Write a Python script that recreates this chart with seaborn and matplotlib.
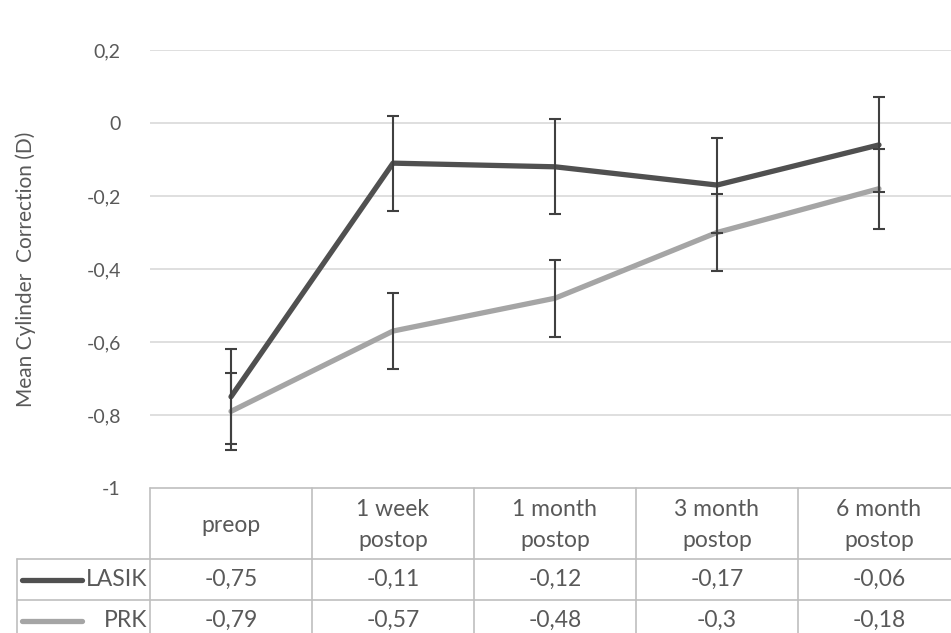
import numpy as np
import pandas as pd
import matplotlib
matplotlib.use("Agg")
import matplotlib.pyplot as plt
import seaborn as sns

# --- data --- #
categories = ["preop", "1 week\npostop", "1 month\npostop", "3 month\npostop", "6 month\npostop"]
lasik = [-0.75, -0.11, -0.12, -0.17, -0.06]
prk = [-0.79, -0.57, -0.48, -0.30, -0.18]
lasik_err = [0.13, 0.13, 0.13, 0.13, 0.13]
prk_err = [0.105, 0.105, 0.105, 0.105, 0.11]
series_names = ["LASIK", "PRK"]
y_ticks = [0.2, 0.0, -0.2, -0.4, -0.6, -0.8, -1.0]

colors = {"LASIK": "#505050", "PRK": "#a5a5a5"}
txt = "#595959"
gridc = "#d9d9d9"

sns.set_theme(style="white")
plt.rcParams["font.family"] = ["Lato", "DejaVu Sans"]

W, H = 951, 633
fig = plt.figure(figsize=(W / 100, H / 100), dpi=100)

# plot area in pixels: x 150..960, y 50..488
x0, x1, ytop, ybot = 150, 960, 50, 488
ax = fig.add_axes([x0 / W, (H - ybot) / H, (x1 - x0) / W, (ybot - ytop) / H])

df = pd.DataFrame({
    "pos": list(range(len(categories))) * 2,
    "value": lasik + prk,
    "err": lasik_err + prk_err,
    "group": ["LASIK"] * len(lasik) + ["PRK"] * len(prk),
})

sns.lineplot(data=df, x="pos", y="value", hue="group", palette=colors,
             linewidth=3.8, legend=False, ax=ax, zorder=3)
for name in series_names:
    sub = df[df["group"] == name]
    ax.errorbar(sub["pos"], sub["value"], yerr=sub["err"], fmt="none",
                ecolor="#404040", elinewidth=1.5, capsize=4.5, capthick=1.5, zorder=4)

ax.set_xlim(-0.5, len(categories) - 0.5)
ax.set_ylim(-1.0, 0.2)
ax.set_yticks(y_ticks)
ax.set_yticklabels([("%g" % t).replace(".", ",") if t != 0 else "0" for t in y_ticks],
                   fontsize=14, color=txt)
ax.tick_params(axis="y", length=0, pad=21)
ax.set_xticks([])
ax.set_xlabel("")
for t in y_ticks[:-1]:
    ax.axhline(t, color=gridc, linewidth=1.2, zorder=1)
for s in ax.spines.values():
    s.set_visible(False)
ax.set_ylabel("Mean Cylinder  Correction (D)", fontsize=15, color=txt)
ax.yaxis.set_label_coords(-0.141, 0.5)

# --- data table under the plot --- #
tab_top, tab_bot = 488, 641
tab = fig.add_axes([x0 / W, (H - tab_bot) / H, (x1 - x0) / W, (tab_bot - tab_top) / H])
tab.set_xlim(-0.5, len(categories) - 0.5)
tab.set_ylim(tab_bot - tab_top, 0)
tab.axis("off")
px = (len(categories)) / (x1 - x0)  # data units per pixel in x
left = -0.5 - (x0 - 17) * px
linec = "#bfbfbf"
rows = [0, 71, 112, 153]
fs = 16.5

tab.plot([-0.5, 4.5], [rows[0], rows[0]], color=linec, lw=1.2, clip_on=False)
for r in rows[1:3]:
    tab.plot([left, 4.5], [r, r], color=linec, lw=1.2, clip_on=False)
for i in range(len(categories)):
    tab.plot([i - 0.5, i - 0.5], [0, rows[-1]], color=linec, lw=1.2, clip_on=False)
tab.plot([left, left], [rows[1], rows[-1]], color=linec, lw=1.2, clip_on=False)

for i, c in enumerate(categories):
    tab.text(i, 37, c, ha="center", va="center", fontsize=fs, color=txt, linespacing=1.55)

for j, (name, vals) in enumerate(zip(series_names, [lasik, prk])):
    yc = (rows[j + 1] + rows[j + 2]) / 2
    tab.plot([-0.5 - (x0 - 22) * px, -0.5 - (x0 - 82) * px], [yc, yc],
             color=colors[name], lw=3.8, solid_capstyle="round", clip_on=False)
    tab.text(-0.5 - 3 * px, yc, name, ha="right", va="center", fontsize=fs, color=txt)
    for i, v in enumerate(vals):
        tab.text(i, yc, ("%g" % v).replace(".", ","), ha="center", va="center",
                 fontsize=fs, color=txt)

fig.savefig("out.png", dpi=100)
